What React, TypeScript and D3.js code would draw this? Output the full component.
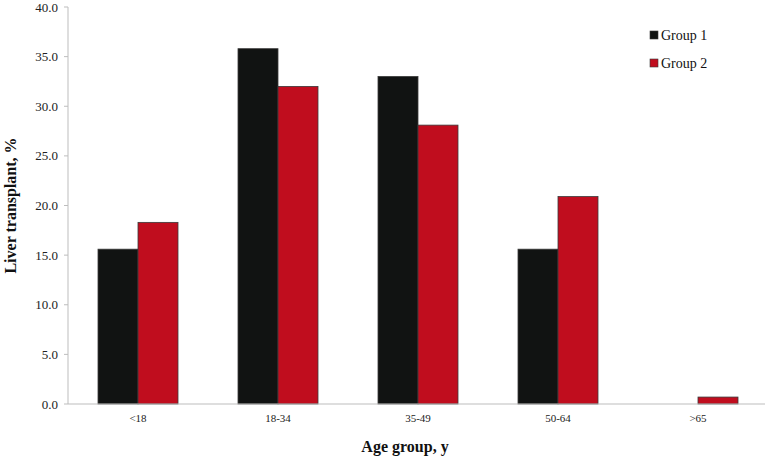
import * as React from 'react';
import * as d3 from 'd3';

const categories = ['<18', '18-34', '35-49', '50-64', '>65'];
const seriesNames = ['Group 1', 'Group 2'];
const group1 = [15.6, 35.8, 33.0, 15.6, 0];
const group2 = [18.3, 32.0, 28.1, 20.9, 0.7];
const yTicks = [0, 5, 10, 15, 20, 25, 30, 35, 40];
const colours = ['#111312', '#c00d1e'];

const width = 768;
const height = 457;
const margin = { top: 7, right: 0, bottom: 53, left: 68 };
const font = '"Liberation Serif", "DejaVu Serif", serif';

export default function App() {
  const x = d3.scaleBand()
    .domain(categories)
    .range([margin.left, width - margin.right])
    .paddingInner(60 / 140)
    .paddingOuter(30 / 140);

  const inner = d3.scaleBand()
    .domain(seriesNames)
    .range([0, x.bandwidth()]);

  const y = d3.scaleLinear()
    .domain([0, 40])
    .range([height - margin.bottom, margin.top]);

  const values = [group1, group2];

  return (
    <svg width={width} height={height} style={{ position: 'absolute', left: 0, top: 0, background: '#fff' }}>
      {/* y axis */}
      <line x1={margin.left} x2={margin.left} y1={y(40)} y2={y(0)} stroke="#bdbdbd" />
      {yTicks.map(t => (
        <g key={t}>
          <line x1={margin.left - 4} x2={margin.left} y1={y(t)} y2={y(t)} stroke="#bdbdbd" />
          <text x={margin.left - 10} y={y(t)} dy="0.35em" textAnchor="end"
            fontFamily={font} fontSize={13} fill="#222">{t.toFixed(1)}</text>
        </g>
      ))}
      {/* bars */}
      {categories.map((c, i) => (
        <g key={c}>
          {seriesNames.map((s, j) => values[j][i] > 0 ? (
            <rect key={s}
              x={(x(c) as number) + (inner(s) as number)}
              y={y(values[j][i])}
              width={inner.bandwidth()}
              height={y(0) - y(values[j][i])}
              fill={colours[j]}
              stroke="#3a3a3a" strokeWidth={0.8} />
          ) : null)}
          <text x={(x(c) as number) + x.bandwidth() / 2} y={y(0) + 18} textAnchor="middle"
            fontFamily={font} fontSize={11} fill="#222">{c}</text>
        </g>
      ))}
      {/* x axis */}
      <line x1={margin.left} x2={width - 3} y1={y(0)} y2={y(0)} stroke="#bdbdbd" />
      {/* axis titles */}
      <text x={405} y={452} textAnchor="middle" fontFamily={font} fontWeight="bold" fontSize={16} fill="#111">Age group, y</text>
      <text transform={`translate(16,${(y(0) + y(40)) / 2}) rotate(-90)`} textAnchor="middle"
        fontFamily={font} fontWeight="bold" fontSize={16} fill="#111">Liver transplant, %</text>
      {/* legend */}
      {seriesNames.map((s, j) => (
        <g key={s} transform={`translate(650,${31 + j * 28})`}>
          <rect x={0} y={0} width={8} height={8} fill={colours[j]} stroke="#3a3a3a" strokeWidth={0.6} />
          <text x={11} y={4} dy="0.35em" fontFamily={font} fontSize={14} fill="#111">{s}</text>
        </g>
      ))}
    </svg>
  );
}
